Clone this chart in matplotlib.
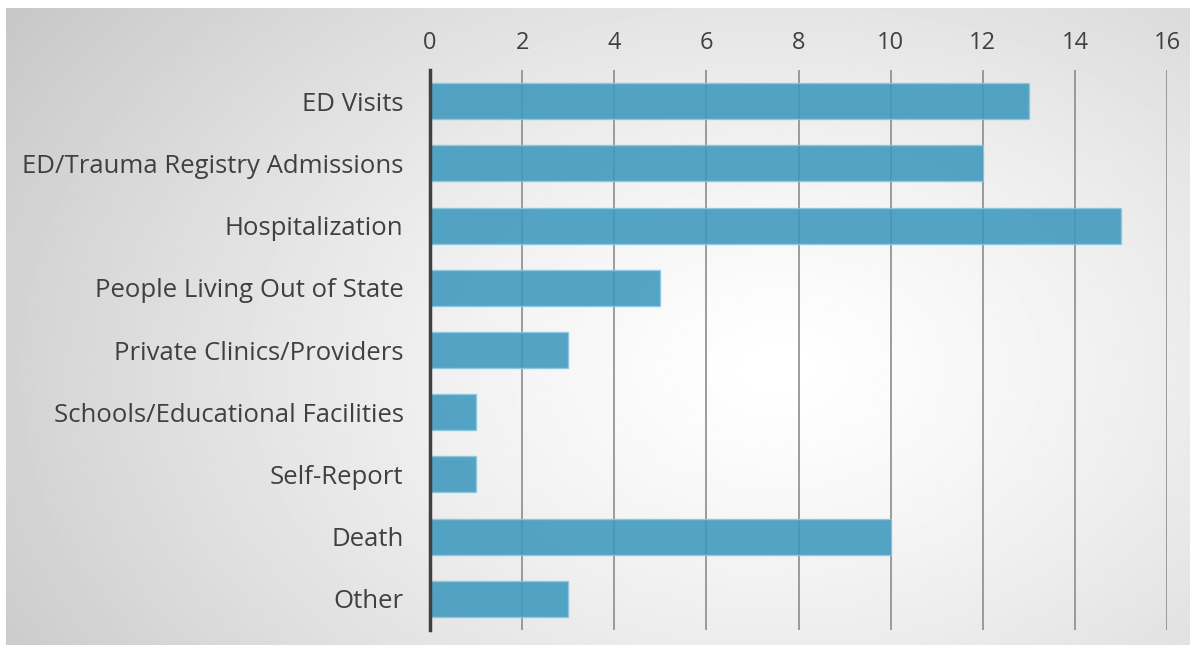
import numpy as np
import matplotlib
matplotlib.use('Agg')
import matplotlib.pyplot as plt

# data
categories = ['ED Visits', 'ED/Trauma Registry Admissions', 'Hospitalization',
              'People Living Out of State', 'Private Clinics/Providers',
              'Schools/Educational Facilities', 'Self-Report', 'Death', 'Other']
counts = [13, 12, 15, 5, 3, 1, 1, 10, 3]
xticks = [0, 2, 4, 6, 8, 10, 12, 14, 16]

W, H = 1194, 653
fig = plt.figure(figsize=(W / 100, H / 100), dpi=100)
fig.patch.set_facecolor('white')

# radial gradient background panel
bg = fig.add_axes([6 / W, 8 / H, (1190 - 6) / W, (645 - 8) / H])
yy, xx = np.mgrid[0:300, 0:600]
cx, cy = 390, 170
r = np.sqrt(((xx - cx) / 600) ** 2 + ((yy - cy) / 300) ** 2 * 0.6)
r = r / r.max()
shade = 1.0 - 0.22 * r ** 1.3
bg.imshow(shade, cmap='gray', vmin=0, vmax=1, aspect='auto', interpolation='bilinear')
bg.axis('off')

ax = fig.add_axes([430 / W, 1 - 630 / H, (1167 - 430) / W, (630 - 70) / H])
ax.patch.set_alpha(0)
y = np.arange(len(categories))
ax.barh(y, counts, height=0.58, color='#3d98be', alpha=0.88,
        edgecolor='#8cc8de', linewidth=1.0, zorder=3)
ax.set_ylim(len(categories) - 0.5, -0.5)
ax.set_xlim(0, 16)
ax.set_xticks(xticks)
ax.set_yticks(y)
ax.set_yticklabels(categories)
ax.xaxis.tick_top()
ax.tick_params(axis='both', length=0, labelsize=18.5, labelcolor='#404040')
ax.tick_params(axis='x', labelsize=17, pad=11)
ax.tick_params(axis='y', pad=19)
for lbl in ax.get_xticklabels() + ax.get_yticklabels():
    lbl.set_family('Open Sans')
ax.grid(axis='x', color='#8c8c8c', linewidth=1.2, zorder=1)
for s in ['top', 'right', 'bottom']:
    ax.spines[s].set_visible(False)
ax.spines['left'].set_color('#404040')
ax.spines['left'].set_linewidth(2.5)
ax.spines['left'].set_zorder(5)

fig.savefig('out.png', dpi=100)
